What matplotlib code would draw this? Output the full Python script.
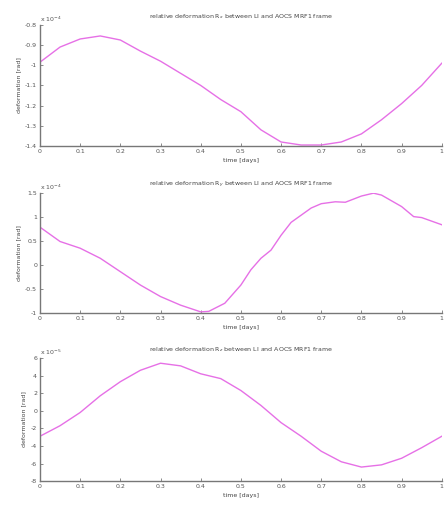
import numpy as np
import matplotlib
matplotlib.use("Agg")
import matplotlib.pyplot as plt

# tiempo [días]
t = [0, 0.05, 0.1, 0.15, 0.2, 0.25, 0.3, 0.35, 0.4, 0.45, 0.5, 0.55,
     0.6, 0.65, 0.7, 0.75, 0.8, 0.85, 0.9, 0.95, 1.0]

# deformación R_x (x 1e-4)
rx = [-0.985, -0.91, -0.87, -0.855, -0.875, -0.93, -0.98, -1.04, -1.10,
      -1.17, -1.23, -1.32, -1.38, -1.395, -1.395, -1.38, -1.34, -1.27,
      -1.19, -1.10, -0.99]

# deformación R_y (x 1e-4)
t_y = [0, 0.05, 0.1, 0.15, 0.2, 0.25, 0.3, 0.35, 0.4, 0.42, 0.46, 0.5,
       0.525, 0.55, 0.575, 0.6, 0.625, 0.65, 0.675, 0.7, 0.735, 0.76,
       0.8, 0.83, 0.85, 0.9, 0.93, 0.95, 1.0]
ry = [0.79, 0.49, 0.35, 0.14, -0.14, -0.42, -0.66, -0.84, -0.98, -0.97,
      -0.80, -0.42, -0.10, 0.14, 0.31, 0.62, 0.89, 1.04, 1.19, 1.28, 1.32,
      1.31, 1.44, 1.50, 1.46, 1.22, 1.01, 0.99, 0.84]

# deformación R_z (x 1e-5)
rz = [-2.9, -1.7, -0.2, 1.7, 3.3, 4.6, 5.4, 5.1, 4.2, 3.65, 2.3, 0.6,
      -1.35, -2.9, -4.6, -5.8, -6.4, -6.15, -5.4, -4.2, -2.9]

titulos = [r"relative deformation R$_x$ between LI and AOCS MRF1 frame",
           r"relative deformation R$_y$ between LI and AOCS MRF1 frame",
           r"relative deformation R$_z$ between LI and AOCS MRF1 frame"]
exponentes = [r"x 10$^{-4}$", r"x 10$^{-4}$", r"x 10$^{-5}$"]
yticks = [[-0.8, -0.9, -1, -1.1, -1.2, -1.3, -1.4],
          [1.5, 1, 0.5, 0, -0.5, -1],
          [6, 4, 2, 0, -2, -4, -6, -8]]
ylims = [(-1.4, -0.8), (-1, 1.5), (-8, 6)]
xticks = [0, 0.1, 0.2, 0.3, 0.4, 0.5, 0.6, 0.7, 0.8, 0.9, 1]

fig = plt.figure(figsize=(4.44, 5.07), dpi=100)
posiciones = [[0.090, 0.712, 0.905, 0.239],
              [0.090, 0.383, 0.905, 0.236],
              [0.090, 0.051, 0.905, 0.243]]
datos = [(t, rx), (t_y, ry), (t, rz)]

gris = "#777777"
for i in range(3):
    ax = fig.add_axes(posiciones[i])
    x, y = datos[i]
    ax.plot(x, y, color="#e670e6", linewidth=1.0)
    ax.set_xlim(0, 1)
    ax.set_ylim(*ylims[i])
    ax.set_xticks(xticks)
    ax.set_xticklabels([("%g" % v) for v in xticks])
    ax.set_yticks(yticks[i])
    ax.set_yticklabels([("%g" % v) for v in yticks[i]])
    ax.tick_params(direction="in", length=2, width=0.6, colors=gris,
                   labelsize=4.5, labelcolor="#555555", pad=2)
    for lado in ["top", "right"]:
        ax.spines[lado].set_visible(False)
    for lado in ["left", "bottom"]:
        ax.spines[lado].set_color(gris)
        ax.spines[lado].set_linewidth(1.0)
    ax.set_title(titulos[i], fontsize=4.5, color="#444444", pad=5)
    ax.set_xlabel("time [days]", fontsize=4.5, color="#444444", labelpad=3)
    ax.set_ylabel("deformation [rad]", fontsize=4.5, color="#444444", labelpad=3)
    ax.text(0.0, 1.01, exponentes[i], transform=ax.transAxes, fontsize=4.5,
            color="#555555", ha="left", va="bottom")

fig.savefig("out.png", dpi=100)
